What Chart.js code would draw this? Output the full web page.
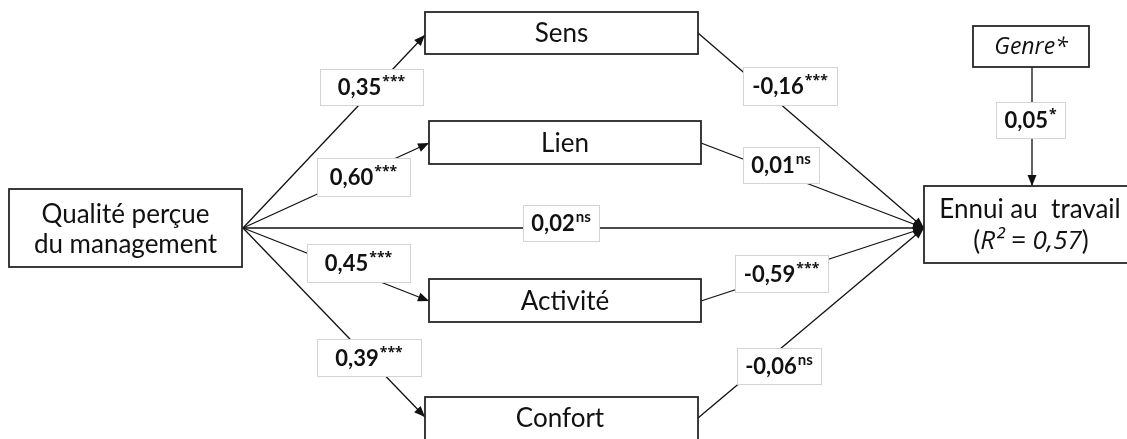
<!DOCTYPE html>
<html>
<head>
<meta charset="utf-8">
<script src="https://cdn.jsdelivr.net/npm/chart.js@4"></script>
<style>
html,body{margin:0;padding:0;background:#fff;}
#wrap{width:1127px;height:439px;}
</style>
</head>
<body>
<div id="wrap"><canvas id="c" width="1127" height="439"></canvas></div>
<script>
// ---- data ----
const nodeLabels = ['Qualité perçue\ndu management', 'Sens', 'Lien', 'Activité', 'Confort', 'Ennui au  travail', 'Genre*'];
const pathFrom   = [0, 0, 0, 0, 0, 1, 2, 3, 4, 6];
const pathTo     = [1, 2, 5, 3, 4, 5, 5, 5, 5, 5];
const coefs      = ['0,35', '0,60', '0,02', '0,45', '0,39', '-0,16', '0,01', '-0,59', '-0,06', '0,05'];
const signif     = ['***', '***', 'ns', '***', '***', '***', 'ns', '***', 'ns', '*'];
const rSquared   = '0,57';

// ---- layout (in axis units) ----
const nodeBox = [
  [9, 242, 189, 267],
  [425, 698, 12, 54],
  [429, 701, 121, 164],
  [429, 701, 279, 322],
  [425, 698, 397, 470],
  [924, 1135, 186, 263],
  [973, 1089, 26, 67]
];
const edgeStart = [[243,228],[243,228],[243,228],[243,228],[243,228],[698,33],[701,143],[701,301],[698,418],[1032,67]];
const edgeEnd   = [[425,35],[429,143],[924,228],[429,301],[425,417],[924,228],[924,228],[924,228],[924,228],[1032,186]];
const edgeArrow = [true,true,true,true,true,true,true,true,true,true];
const labelBox = [
  [320,423,69,105],[317,410,158,196],[523,599,205,241],[307,410,244,282],[317,421,339,376],
  [743,837,67,105],[743,819,147,183],[735,828,255,292],[737,821,348,384],[996,1065,102,138]
];
const FONT = 'Lato, "Open Sans", sans-serif';

const datasets = pathFrom.map((f, i) => ({
  type: 'line',
  data: [{x: edgeStart[i][0], y: edgeStart[i][1]}, {x: edgeEnd[i][0], y: edgeEnd[i][1]}],
  borderColor: '#111',
  borderWidth: 1.3,
  pointRadius: 0,
  fill: false,
  tension: 0
}));

const diagram = {
  id: 'diagram',
  afterDatasetsDraw(chart) {
    const ctx = chart.ctx;
    const xs = chart.scales.x, ys = chart.scales.y;
    const px = v => xs.getPixelForValue(v), py = v => ys.getPixelForValue(v);
    ctx.save();
    // arrowheads
    chart.data.datasets.forEach((ds, i) => {
      if (!edgeArrow[i]) return;
      const pts = chart.getDatasetMeta(i).data;
      const a = pts[0], b = pts[1];
      const ang = Math.atan2(b.y - a.y, b.x - a.x);
      const L = 11, W = 4.5;
      ctx.fillStyle = '#111';
      ctx.beginPath();
      ctx.moveTo(b.x, b.y);
      ctx.lineTo(b.x - L*Math.cos(ang) + W*Math.sin(ang), b.y - L*Math.sin(ang) - W*Math.cos(ang));
      ctx.lineTo(b.x - L*Math.cos(ang) - W*Math.sin(ang), b.y - L*Math.sin(ang) + W*Math.cos(ang));
      ctx.closePath();
      ctx.fill();
    });
    // node boxes
    nodeBox.forEach((bx, i) => {
      const x0 = px(bx[0]), x1 = px(bx[1]), y0 = py(bx[2]), y1 = py(bx[3]);
      ctx.fillStyle = '#fff';
      ctx.fillRect(x0, y0, x1 - x0, y1 - y0);
      ctx.strokeStyle = '#262626';
      ctx.lineWidth = 1.8;
      ctx.strokeRect(x0, y0, x1 - x0, y1 - y0);
      ctx.fillStyle = '#111';
      ctx.textAlign = 'center';
      ctx.textBaseline = 'middle';
      const cx = (x0 + Math.min(x1, chart.width)) / 2;
      const cy = (y0 + Math.min(y1, chart.height + 0)) / 2;
      if (i === 0) {
        ctx.font = '26px ' + FONT;
        const lines = nodeLabels[i].split('\n');
        ctx.fillText(lines[0], cx, py(215));
        ctx.fillText(lines[1], cx, py(245));
      } else if (i === 5) {
        ctx.font = '26px ' + FONT;
        ctx.fillText(nodeLabels[i], px(1030), py(210));
        // second line: (R² = 0,57)
        const parts = [['(', '26px ' + FONT], ['R² = ' + rSquared, 'italic 26px "Open Sans", ' + FONT], [')', '26px ' + FONT]];
        let tw = 0;
        parts.forEach(p => { ctx.font = p[1]; tw += ctx.measureText(p[0]).width; });
        let x = px(1031) - tw / 2;
        ctx.textAlign = 'left';
        parts.forEach(p => { ctx.font = p[1]; ctx.fillText(p[0], x, py(242)); x += ctx.measureText(p[0]).width; });
      } else if (i === 6) {
        ctx.font = 'italic 23px "Open Sans", ' + FONT;
        ctx.fillText(nodeLabels[i], (x0 + x1) / 2, py(47));
      } else if (i === 4) {
        ctx.font = '26px ' + FONT;
        ctx.fillText(nodeLabels[i], px(560), py(419));
      } else {
        ctx.font = '26px ' + FONT;
        ctx.fillText(nodeLabels[i], cx, cy + 1);
      }
    });
    // coefficient labels
    labelBox.forEach((bx, i) => {
      const x0 = px(bx[0]), x1 = px(bx[1]), y0 = py(bx[2]), y1 = py(bx[3]);
      ctx.fillStyle = '#fff';
      ctx.fillRect(x0, y0, x1 - x0, y1 - y0);
      ctx.strokeStyle = '#d4d4d4';
      ctx.lineWidth = 1;
      ctx.strokeRect(x0 + 0.5, y0 + 0.5, x1 - x0, y1 - y0);
      const mainFont = 'bold 22px ' + FONT;
      const supFont = signif[i] === 'ns' ? 'bold 15px ' + FONT : 'bold 14px "Open Sans", sans-serif';
      ctx.font = mainFont;
      const w1 = ctx.measureText(coefs[i]).width;
      ctx.font = supFont;
      const w2 = ctx.measureText(signif[i]).width;
      const cx = (x0 + x1) / 2, cy = (y0 + y1) / 2;
      let x = cx - (w1 + w2 + 1) / 2;
      ctx.fillStyle = '#111';
      ctx.textAlign = 'left';
      ctx.textBaseline = 'alphabetic';
      ctx.font = mainFont;
      ctx.fillText(coefs[i], x, cy + 8);
      ctx.font = supFont;
      ctx.fillText(signif[i], x + w1 + 1, signif[i] === 'ns' ? cy - 1 : cy - 1);
    });
    ctx.restore();
  }
};

new Chart(document.getElementById('c'), {
  type: 'scatter',
  data: { datasets },
  options: {
    responsive: false,
    animation: false,
    layout: { padding: 0 },
    scales: {
      x: { type: 'linear', min: 0, max: 1127, display: false },
      y: { type: 'linear', min: 0, max: 439, reverse: true, display: false }
    },
    plugins: { legend: { display: false }, tooltip: { enabled: false } }
  },
  plugins: [diagram]
});
</script>
</body>
</html>
